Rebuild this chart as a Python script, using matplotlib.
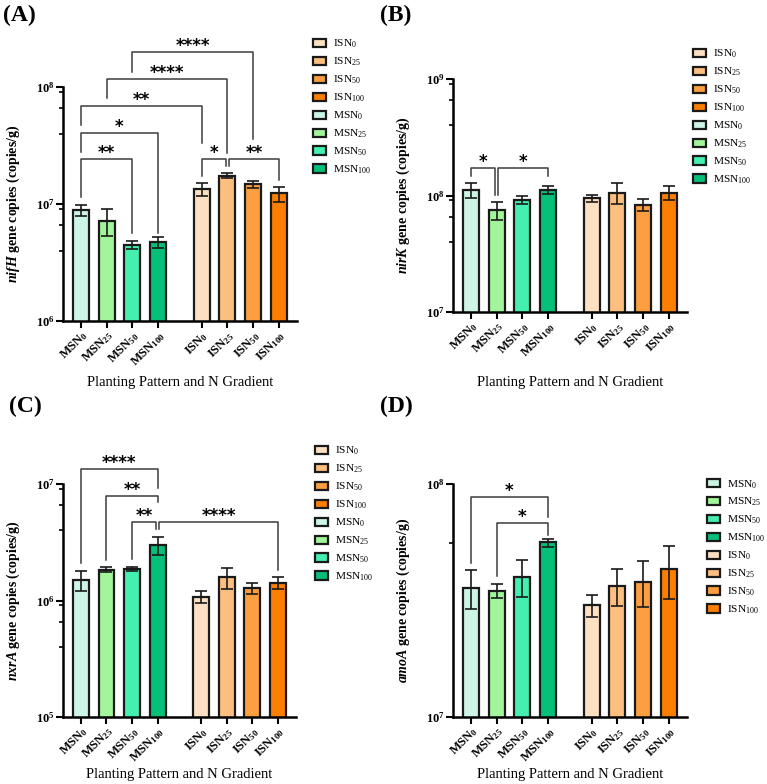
import matplotlib
matplotlib.use('Agg')
import numpy as np
import matplotlib.pyplot as plt
from matplotlib.patches import Patch
from matplotlib.ticker import FixedLocator, NullFormatter

plt.rcParams['font.family'] = 'Liberation Serif'
plt.rcParams['mathtext.fontset'] = 'custom'
plt.rcParams['mathtext.rm'] = 'Liberation Serif'
plt.rcParams['mathtext.it'] = 'Liberation Serif:italic'
plt.rcParams['mathtext.bf'] = 'Liberation Serif:bold'
plt.rcParams['mathtext.bfit'] = 'Liberation Serif:italic:bold'

#----- data -----
groups = ['MSN0', 'MSN25', 'MSN50', 'MSN100', 'ISN0', 'ISN25', 'ISN50', 'ISN100']
doses = ['0', '25', '50', '100']

nifh_msn = [8.9e6, 7.2e6, 4.5e6, 4.7e6]
nifh_msn_sd = [1.0e6, 1.9e6, 0.35e6, 0.5e6]
nifh_isn = [13.4e6, 17.5e6, 14.8e6, 12.3e6]
nifh_isn_sd = [1.65e6, 0.75e6, 1.0e6, 1.8e6]

nirk_msn = [1.12e8, 7.5e7, 9.2e7, 1.11e8]
nirk_msn_sd = [1.7e7, 1.3e7, 0.75e7, 0.85e7]
nirk_isn = [9.5e7, 1.06e8, 8.3e7, 1.06e8]
nirk_isn_sd = [0.65e7, 2.1e7, 1.0e7, 1.45e7]

nxra_msn = [1.50e6, 1.83e6, 1.86e6, 2.98e6]
nxra_msn_sd = [0.29e6, 0.09e6, 0.085e6, 0.53e6]
nxra_isn = [1.08e6, 1.58e6, 1.27e6, 1.42e6]
nxra_isn_sd = [0.13e6, 0.33e6, 0.14e6, 0.16e6]

amoa_msn = [3.59e7, 3.49e7, 4.0e7, 5.61e7]
amoa_msn_sd = [0.67e7, 0.25e7, 0.72e7, 0.22e7]
amoa_isn = [3.01e7, 3.66e7, 3.81e7, 4.32e7]
amoa_isn_sd = [0.33e7, 0.66e7, 0.85e7, 1.1e7]

# significance: (group i, group j, stars, bracket height, left leg end, right leg end) in log10
sig_a = [(2, 6, '****', 8.299, 8.128, 7.556),
         (1, 5, '****', 8.068, 7.906, 7.436),
         (0, 4, '**', 7.838, 7.675, 7.521),
         (0, 3, '*', 7.607, 7.444, 6.752),
         (0, 2, '**', 7.385, 7.06, 6.752),
         (4, 5, '*', 7.385, 7.239, 7.325),
         (5, 7, '**', 7.385, 7.325, 7.205)]
sig_b = [(0, 1, '*', 8.236, 8.167, 8.004),
         (1, 3, '*', 8.236, 8.004, 8.167)]
sig_c = [(0, 3, '****', 7.129, 6.322, 6.966),
         (1, 3, '**', 6.897, 6.348, 6.845),
         (2, 3, '**', 6.674, 6.356, 6.614),
         (3, 7, '****', 6.674, 6.614, 6.262)]
sig_d = [(0, 3, '*', 7.944, 7.661, 7.858),
         (1, 3, '*', 7.833, 7.605, 7.781)]

msn_colors = ['#cdf5e5', '#a2f59a', '#45efb0', '#06bf79']
isn_colors = ['#fde0c1', '#fdbf80', '#fd9f40', '#fd7f02']

xpos = np.array([0, 1, 2, 3, 4.7, 5.7, 6.7, 7.7])

W, H = 767, 784
fig = plt.figure(figsize=(W / 100, H / 100), dpi=100)


def lab(name, bold=True):
    base = name.rstrip('0123456789')
    sub = name[len(base):]
    if bold:
        return r'$\mathbf{' + base + '_{' + sub + '}}$'
    return r'$\mathrm{' + base + '_{' + sub + '}}$'


def panel(box, letter, letter_xy, gene, msn, msn_sd, isn, isn_sd, ylo, yhi, minors,
          sigs, leg_xy, msn_first, xlab_top):
    l, r, t, b = box
    ax = fig.add_axes([l / W, 1 - b / H, (r - l) / W, (b - t) / H])
    vals = list(msn) + list(isn)
    sds = list(msn_sd) + list(isn_sd)
    cols = msn_colors + isn_colors
    ax.bar(xpos, vals, width=0.62, color=cols, edgecolor='#1a1a1a', linewidth=1.6,
           zorder=2)
    ax.errorbar(xpos, vals, yerr=sds, fmt='none', ecolor='#1a1a1a', elinewidth=1.2,
                capsize=4, capthick=1.2, zorder=3)
    ax.set_yscale('log')
    ax.set_ylim(10 ** ylo, 10 ** yhi)
    ax.set_xlim(-0.7, 8.41)
    for s in ['top', 'right']:
        ax.spines[s].set_visible(False)
    for s in ['left', 'bottom']:
        ax.spines[s].set_linewidth(1.8)
    ax.yaxis.set_major_locator(FixedLocator([10.0 ** k for k in range(ylo, yhi + 1)]))
    ax.set_yticklabels([r'$\mathbf{10^{%d}}$' % k for k in range(ylo, yhi + 1)],
                       fontsize=9)
    mv = [m * 10.0 ** k for k in range(ylo, yhi) for m in minors]
    ax.yaxis.set_minor_locator(FixedLocator(mv))
    ax.yaxis.set_minor_formatter(NullFormatter())
    ax.tick_params(axis='y', which='major', length=5, width=1.5, pad=1)
    ax.tick_params(axis='y', which='minor', length=3, width=1.2)
    ax.set_xticks(xpos)
    ax.set_xticklabels([lab(g) for g in groups], rotation=45, ha='right',
                       va='top', rotation_mode='anchor', fontsize=9)
    ax.tick_params(axis='x', length=5, width=1.5, pad=0.5)
    ax.set_xlabel('Planting Pattern and N Gradient', fontsize=10.5)
    ax.xaxis.set_label_coords(0.5, (b - xlab_top) / (b - t))
    ax.set_ylabel(r'$\mathbfit{' + gene + '}$ gene copies (copies/g)', fontsize=10,
                  fontweight='bold')
    ax.yaxis.set_label_coords(-41 / (r - l), 0.5)
    fig.text(letter_xy[0] / W, 1 - letter_xy[1] / H, '(' + letter + ')',
             fontsize=17, fontweight='bold', va='top', ha='left')

    for i, j, stars, yb, y1, y2 in sigs:
        x1 = xpos[i]
        x2 = xpos[j]
        # brackets meeting at one bar at the same height are nudged apart
        for oi, oj, _, ob, _, _ in sigs:
            if ob == yb and oi == j and oj != i:
                x2 -= 0.07
            if ob == yb and oj == i and oi != j:
                x1 += 0.07
        ax.plot([x1, x1, x2, x2], [10 ** y1, 10 ** yb, 10 ** yb, 10 ** y2],
                color='#3c3c3c', lw=1.1, clip_on=False, zorder=4)
        ax.annotate(stars, ((x1 + x2) / 2, 10 ** yb), xytext=(0, 0.5),
                    textcoords='offset points', ha='center', va='baseline',
                    fontsize=12, fontweight='bold', family='DejaVu Sans',
                    annotation_clip=False)

    msn_h = [Patch(facecolor=c, edgecolor='#1a1a1a', linewidth=1.6) for c in msn_colors]
    isn_h = [Patch(facecolor=c, edgecolor='#1a1a1a', linewidth=1.6) for c in isn_colors]
    msn_l = [lab('MSN' + d, False) for d in doses]
    isn_l = [lab('ISN' + d, False) for d in doses]
    if msn_first:
        hh, ll = msn_h + isn_h, msn_l + isn_l
    else:
        hh, ll = isn_h + msn_h, isn_l + msn_l
    ax.legend(hh, ll, loc='upper left', bbox_to_anchor=(leg_xy[0] / W, 1 - leg_xy[1] / H),
              bbox_transform=fig.transFigure, frameon=False, fontsize=8.2,
              handlelength=1.15, handleheight=0.8, handletextpad=0.6,
              labelspacing=0.48, borderpad=0, borderaxespad=0)
    return ax


panel((63, 297, 87, 321), 'A', (3, 5), 'nifH', nifh_msn, nifh_msn_sd, nifh_isn,
      nifh_isn_sd, 6, 8, [4, 6.6, 9.1], sig_a, (313, 38), False, 376)
panel((453, 687, 79, 312), 'B', (380, 5), 'nirK', nirk_msn, nirk_msn_sd, nirk_isn,
      nirk_isn_sd, 7, 9, [4, 6.6, 9.1], sig_b, (693, 48), False, 376)
panel((63, 296, 484, 717), 'C', (9, 396), 'nxrA', nxra_msn, nxra_msn_sd, nxra_isn,
      nxra_isn_sd, 5, 7, [4, 6.6, 9.1], sig_c, (315, 445), False, 768)
panel((453, 687, 484, 717), 'D', (380, 396), 'amoA', amoa_msn, amoa_msn_sd, amoa_isn,
      amoa_isn_sd, 7, 8, [5.6], sig_d, (707, 478), True, 768)

fig.savefig('out.png', dpi=100)
